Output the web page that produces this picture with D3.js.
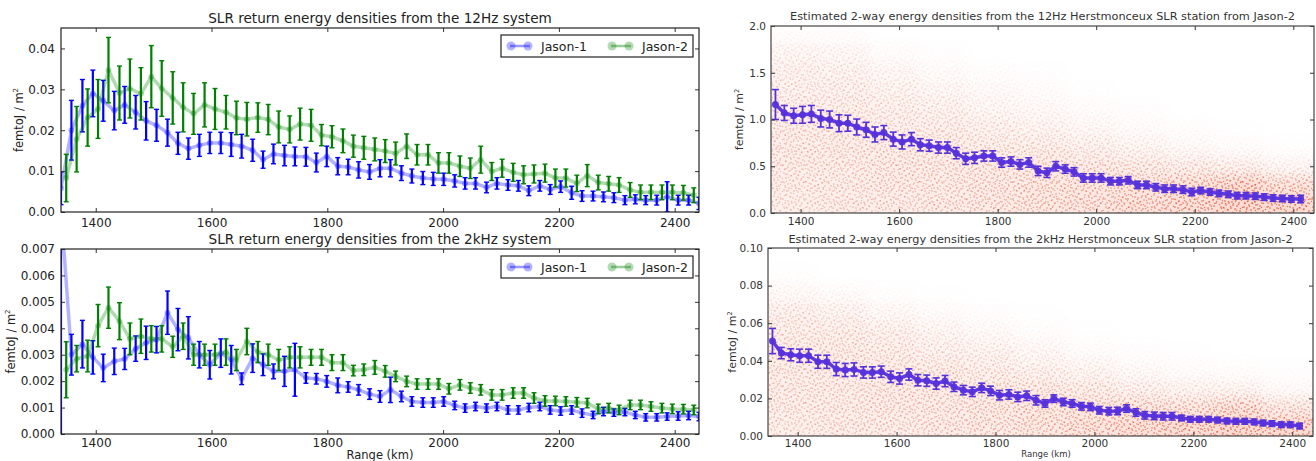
<!DOCTYPE html>
<html>
<head>
<meta charset="utf-8">
<script src="https://cdn.jsdelivr.net/npm/d3@7"></script>
<style>
  body { margin: 0; background: #fff; }
  svg { display: block; font-family: "DejaVu Sans", sans-serif; }
</style>
</head>
<body>
<svg id="fig" width="1316" height="461"></svg>
<script>
// ---- range bins (km) ----
var jason1Range = [1340, 1358, 1377, 1395, 1413, 1432, 1450, 1469, 1487, 1505, 1524, 1542, 1560, 1579, 1597, 1616,
  1634, 1652, 1671, 1689, 1707, 1726, 1744, 1763, 1781, 1799, 1818, 1836, 1854, 1873, 1891, 1909, 1928, 1946, 1965,
  1983, 2001, 2020, 2038, 2056, 2075, 2093, 2112, 2130, 2148, 2167, 2185, 2203, 2222, 2240, 2259, 2277, 2295, 2314,
  2332, 2350, 2369, 2387, 2406, 2424, 2442];
var jason2Range = [1349, 1367, 1386, 1404, 1422, 1441, 1459, 1478, 1496, 1514, 1533, 1551, 1569, 1588, 1606, 1625,
  1643, 1661, 1680, 1698, 1716, 1735, 1753, 1772, 1790, 1808, 1827, 1845, 1863, 1882, 1900, 1918, 1937, 1955, 1974,
  1992, 2010, 2029, 2047, 2065, 2084, 2102, 2121, 2139, 2157, 2176, 2194, 2212, 2231, 2249, 2268, 2286, 2304, 2323,
  2341, 2359, 2378, 2396, 2415, 2433];

// ---- 12Hz system ----
var j1_12Hz = [0.0058, 0.020, 0.026, 0.029, 0.0272, 0.0248, 0.0262, 0.0244, 0.0223, 0.0212,
  0.0194, 0.0168, 0.0155, 0.0163, 0.0169, 0.0169, 0.0165, 0.0161, 0.0151, 0.0128,
  0.0142, 0.0138, 0.0136, 0.0135, 0.0121, 0.0136, 0.0112, 0.0110, 0.0103, 0.0098,
  0.0107, 0.0107, 0.0095, 0.0088, 0.0083, 0.0081, 0.0080, 0.0076, 0.0070, 0.0070,
  0.0060, 0.0070, 0.0066, 0.0064, 0.0052, 0.0064, 0.0055, 0.0062, 0.0047, 0.0039,
  0.0039, 0.0037, 0.0035, 0.0029, 0.0031, 0.0029, 0.0029, 0.0037, 0.0029, 0.0029, 0.0021];
var j1_12HzErr = [0.004, 0.0073, 0.0064, 0.0057, 0.005, 0.0047, 0.0045, 0.0041, 0.0047, 0.0039,
  0.0033, 0.0027, 0.0026, 0.0027, 0.0026, 0.0026, 0.0029, 0.0029, 0.0027, 0.0021,
  0.0024, 0.0025, 0.0023, 0.0023, 0.0023, 0.0025, 0.0021, 0.0019, 0.002, 0.0018,
  0.0021, 0.0021, 0.0018, 0.0017, 0.0016, 0.0016, 0.0015, 0.0015, 0.0014, 0.0014,
  0.0013, 0.0014, 0.0013, 0.0013, 0.0012, 0.0013, 0.0012, 0.0014, 0.0016, 0.0013,
  0.0012, 0.0012, 0.0012, 0.0011, 0.0011, 0.0011, 0.0012, 0.0037, 0.0012, 0.0012, 0.0015];
var j2_12Hz = [0.0083, 0.0178, 0.0231, 0.0252, 0.0347, 0.0291, 0.0302, 0.0289, 0.0331, 0.0302,
  0.0279, 0.0256, 0.0240, 0.0262, 0.0252, 0.0244, 0.0230, 0.0227, 0.0231, 0.0226,
  0.0208, 0.0202, 0.0215, 0.0212, 0.0188, 0.0184, 0.0174, 0.0161, 0.0157, 0.0153,
  0.0149, 0.0143, 0.0161, 0.0140, 0.0140, 0.0120, 0.0120, 0.0112, 0.0107, 0.0128,
  0.0099, 0.0107, 0.0097, 0.0091, 0.0093, 0.0095, 0.0083, 0.0083, 0.0070, 0.0089,
  0.0072, 0.0069, 0.0066, 0.0054, 0.0048, 0.0048, 0.0048, 0.0048, 0.0047, 0.0041];
var j2_12HzErr = [0.0058, 0.008, 0.007, 0.0072, 0.008, 0.0066, 0.0072, 0.0064, 0.0076, 0.0068,
  0.0064, 0.006, 0.005, 0.0054, 0.005, 0.0041, 0.0041, 0.0041, 0.0036, 0.0037,
  0.0039, 0.0033, 0.0039, 0.0039, 0.0026, 0.0027, 0.0029, 0.0027, 0.0028, 0.0028,
  0.0028, 0.0028, 0.003, 0.0025, 0.0025, 0.0025, 0.0025, 0.0025, 0.0025, 0.0033,
  0.0022, 0.0022, 0.0022, 0.0022, 0.0022, 0.0022, 0.0022, 0.0022, 0.002, 0.0027,
  0.0018, 0.0018, 0.0018, 0.0018, 0.0018, 0.0018, 0.0018, 0.0018, 0.0018, 0.0018];

// ---- 2kHz system ----
var j1_2kHz = [0.0085, 0.0030, 0.0034, 0.0029, 0.0025, 0.00275, 0.00284, 0.00323, 0.00345, 0.00357,
  0.00459, 0.00395, 0.00364, 0.0030, 0.00262, 0.00306, 0.00281, 0.00209, 0.00287, 0.00262,
  0.00237, 0.00237, 0.00243, 0.00212, 0.00209, 0.00199, 0.00184, 0.00178, 0.00167, 0.00151,
  0.00142, 0.00167, 0.00142, 0.00123, 0.00119, 0.00119, 0.00123, 0.00108, 0.00098, 0.00104,
  0.00098, 0.00104, 0.00091, 0.00091, 0.00100, 0.00104, 0.00091, 0.00087, 0.00091, 0.00079,
  0.00072, 0.00085, 0.00081, 0.00083, 0.00072, 0.00063, 0.00063, 0.00066, 0.00068, 0.00070, 0.00066];
var j1_2kHzErr = [0.009, 0.00077, 0.0009, 0.00063, 0.00052, 0.0005, 0.0004, 0.00048, 0.00063, 0.0005,
  0.00082, 0.0008, 0.0008, 0.0005, 0.00054, 0.00054, 0.00054, 0.00022, 0.00054, 0.00041,
  0.00028, 0.00057, 0.001, 0.0002, 0.0002, 0.00022, 0.00028, 0.0002, 0.0002, 0.0002,
  0.00022, 0.00048, 0.0002, 0.00018, 0.00018, 0.00018, 0.00018, 0.00016, 0.00016, 0.00016,
  0.00016, 0.00016, 0.00016, 0.00016, 0.00016, 0.00016, 0.00016, 0.00016, 0.00016, 0.00016,
  0.00014, 0.00016, 0.00014, 0.00014, 0.00014, 0.00014, 0.00014, 0.00014, 0.00016, 0.00016, 0.00016];
var j2_2kHz = [0.00243, 0.00285, 0.00295, 0.0041, 0.00478, 0.00427, 0.0036, 0.0037, 0.0036, 0.0036,
  0.0033, 0.0037, 0.0030, 0.0030, 0.0030, 0.0031, 0.0028, 0.0035, 0.0031, 0.0030,
  0.0028, 0.0029, 0.0029, 0.0029, 0.0029, 0.0027, 0.0027, 0.0024, 0.00243, 0.00252,
  0.00237, 0.00218, 0.00199, 0.00189, 0.00189, 0.00189, 0.00171, 0.00186, 0.00174, 0.00167,
  0.00148, 0.00148, 0.00155, 0.00155, 0.00136, 0.00125, 0.00125, 0.00123, 0.00120, 0.00117,
  0.00095, 0.00098, 0.00091, 0.00110, 0.00110, 0.00104, 0.00098, 0.00095, 0.00094, 0.00091];
var j2_2kHzErr = [0.00106, 0.0005, 0.0006, 0.0008, 0.00078, 0.0007, 0.0006, 0.00065, 0.0005, 0.0005,
  0.0004, 0.0005, 0.0004, 0.0004, 0.0004, 0.0005, 0.0004, 0.0005, 0.0004, 0.0004,
  0.0004, 0.0004, 0.0004, 0.0003, 0.0003, 0.0003, 0.0003, 0.0002, 0.00022, 0.00026,
  0.00022, 0.0002, 0.0002, 0.0002, 0.0002, 0.0002, 0.0002, 0.0002, 0.0002, 0.0002,
  0.0002, 0.0002, 0.0002, 0.0002, 0.0002, 0.0002, 0.00018, 0.00018, 0.00018, 0.00018,
  0.00018, 0.00018, 0.00018, 0.00018, 0.00018, 0.00018, 0.00018, 0.00018, 0.00018, 0.00018];

// ---- Herstmonceux estimates (Jason-2) ----
var est12Hz = [1.16, 1.07, 1.04, 1.05, 1.06, 1.01, 1.00, 0.96, 0.96, 0.92,
  0.89, 0.84, 0.86, 0.79, 0.76, 0.79, 0.73, 0.72, 0.70, 0.70,
  0.64, 0.58, 0.59, 0.61, 0.61, 0.54, 0.55, 0.52, 0.54, 0.45,
  0.43, 0.50, 0.47, 0.44, 0.375, 0.375, 0.375, 0.34, 0.34, 0.35,
  0.30, 0.30, 0.275, 0.26, 0.26, 0.25, 0.225, 0.24, 0.225, 0.21,
  0.20, 0.185, 0.185, 0.18, 0.17, 0.16, 0.155, 0.15, 0.15];
var est12HzErr = [0.16, 0.08, 0.08, 0.09, 0.09, 0.09, 0.09, 0.09, 0.085, 0.085,
  0.08, 0.08, 0.075, 0.075, 0.075, 0.07, 0.065, 0.06, 0.06, 0.06,
  0.06, 0.06, 0.06, 0.055, 0.055, 0.05, 0.05, 0.05, 0.05, 0.05,
  0.05, 0.05, 0.045, 0.045, 0.045, 0.045, 0.045, 0.04, 0.04, 0.04,
  0.04, 0.04, 0.04, 0.04, 0.04, 0.04, 0.04, 0.035, 0.035, 0.035,
  0.035, 0.035, 0.035, 0.035, 0.035, 0.035, 0.035, 0.035, 0.04];
var est2kHz = [0.0505, 0.0441, 0.0432, 0.0427, 0.0427, 0.0395, 0.0395, 0.0356, 0.0351, 0.0354,
  0.0338, 0.0338, 0.0342, 0.0315, 0.0306, 0.0327, 0.0297, 0.0294, 0.0279, 0.0292,
  0.0262, 0.0244, 0.0235, 0.0256, 0.0240, 0.0217, 0.0221, 0.0208, 0.0214, 0.0190,
  0.0173, 0.0199, 0.0181, 0.0173, 0.0158, 0.0155, 0.0137, 0.0132, 0.0133, 0.0146,
  0.0125, 0.0110, 0.0107, 0.0105, 0.0105, 0.0096, 0.0089, 0.0089, 0.0089, 0.0085,
  0.0080, 0.0078, 0.0078, 0.0075, 0.0069, 0.0066, 0.0060, 0.0060, 0.0053];
var est2kHzErr = [0.0067, 0.003, 0.0032, 0.0035, 0.0035, 0.0035, 0.0035, 0.0035, 0.0035, 0.0035,
  0.003, 0.003, 0.003, 0.003, 0.003, 0.003, 0.003, 0.003, 0.003, 0.003,
  0.0025, 0.0025, 0.0025, 0.0025, 0.0025, 0.0025, 0.0025, 0.0025, 0.0025, 0.0025,
  0.002, 0.002, 0.002, 0.002, 0.002, 0.002, 0.002, 0.002, 0.002, 0.002,
  0.002, 0.002, 0.002, 0.002, 0.002, 0.0015, 0.0015, 0.0015, 0.0015, 0.0015,
  0.0015, 0.0015, 0.0015, 0.0015, 0.0015, 0.0015, 0.0015, 0.0015, 0.0015];

// ---- shot clouds behind the estimates: relative density per (range column, value row) ----
var cloudRangeEdges = [1340, 1440, 1540, 1640, 1740, 1840, 1940, 2040, 2140, 2240, 2340, 2442];
var cloudRows12Hz = [0, 0.2, 0.4, 0.6, 0.8, 1.0, 1.2, 1.4, 1.6, 1.8, 2.0];
var cloudDensity12Hz = [
  [0.4, 0.45, 0.45, 0.45, 0.45, 0.4, 0.35, 0.3, 0.22, 0.06],
  [0.45, 0.45, 0.45, 0.45, 0.45, 0.4, 0.35, 0.28, 0.18, 0.04],
  [0.45, 0.5, 0.5, 0.45, 0.4, 0.35, 0.28, 0.18, 0.07, 0],
  [0.5, 0.5, 0.5, 0.45, 0.4, 0.3, 0.2, 0.1, 0.03, 0],
  [0.55, 0.55, 0.5, 0.42, 0.32, 0.2, 0.12, 0.05, 0, 0],
  [0.6, 0.6, 0.52, 0.4, 0.25, 0.14, 0.07, 0.02, 0, 0],
  [0.65, 0.62, 0.5, 0.32, 0.17, 0.07, 0.02, 0, 0, 0],
  [0.75, 0.68, 0.45, 0.22, 0.09, 0.03, 0, 0, 0, 0],
  [0.85, 0.78, 0.38, 0.13, 0.04, 0, 0, 0, 0, 0],
  [1.0, 0.92, 0.3, 0.07, 0.01, 0, 0, 0, 0, 0],
  [0.95, 0.7, 0.18, 0.03, 0, 0, 0, 0, 0, 0]];
var cloudRows2kHz = [0, 0.01, 0.02, 0.03, 0.04, 0.05, 0.06, 0.07, 0.08, 0.09, 0.1];
var cloudDensity2kHz = [
  [0.4, 0.45, 0.45, 0.45, 0.45, 0.4, 0.35, 0.15, 0.03, 0],
  [0.45, 0.45, 0.45, 0.45, 0.45, 0.4, 0.28, 0.1, 0, 0],
  [0.45, 0.5, 0.5, 0.45, 0.4, 0.33, 0.17, 0.04, 0, 0],
  [0.5, 0.5, 0.5, 0.45, 0.33, 0.22, 0.09, 0.01, 0, 0],
  [0.55, 0.55, 0.5, 0.38, 0.27, 0.13, 0.04, 0, 0, 0],
  [0.6, 0.6, 0.48, 0.3, 0.17, 0.06, 0.01, 0, 0, 0],
  [0.7, 0.63, 0.42, 0.22, 0.08, 0.02, 0, 0, 0, 0],
  [0.8, 0.65, 0.32, 0.12, 0.03, 0, 0, 0, 0, 0],
  [0.9, 0.62, 0.24, 0.07, 0.01, 0, 0, 0, 0, 0],
  [1.0, 0.75, 0.22, 0.05, 0, 0, 0, 0, 0, 0],
  [0.95, 0.5, 0.1, 0.02, 0, 0, 0, 0, 0, 0]];

// ---- ticks ----
var xDomain = [1340, 2442];
var xTickLabels = [1400, 1600, 1800, 2000, 2200, 2400];
var yTicks12HzLeft = [0, 0.01, 0.02, 0.03, 0.04];
var yTicks2kHzLeft = [0, 0.001, 0.002, 0.003, 0.004, 0.005, 0.006, 0.007];
var yTicks12HzRight = [0, 0.5, 1.0, 1.5, 2.0];
var yTicks2kHzRight = [0, 0.02, 0.04, 0.06, 0.08, 0.1];
var seriesNames = ["Jason-1", "Jason-2"];


var svg = d3.select("#fig");
var defs = svg.append("defs");

// two stipple tiles with different periods, layered so the repeat is hard to see
function addStipple(id, w, h, dots) {
    var pat = defs.append("pattern").attr("id", id)
        .attr("patternUnits", "userSpaceOnUse").attr("width", w).attr("height", h);
    dots.forEach(function(p) {
        pat.append("circle").attr("cx", p[0]).attr("cy", p[1]).attr("r", 0.75).attr("fill", "#df3a18");
    });
}
addStipple("stippleA", 23, 17, [[2,3],[7,1],[12,4],[18,2],[21,7],[4,8],[9,6],[15,9],[1,12],[6,14],[11,11],
    [17,13],[20,16],[3,16],[13,15],[8,10],[19,10],[14,1],[10,16],[22,12],[16,5],[5,4]]);
addStipple("stippleB", 19, 13, [[1.5,2.5],[6.5,5.5],[11.5,1.5],[16.5,4.5],[3.5,9.5],[9.5,8.5],[14.5,11.5],
    [17.5,8.5],[7.5,12.5],[12.5,6.5],[0.5,6.5],[5.5,0.5]]);
defs.append("filter").attr("id", "cloudBlur")
    .attr("x", "-20%").attr("y", "-20%").attr("width", "140%").attr("height", "140%")
    .append("feGaussianBlur").attr("stdDeviation", 6);

function makePanel(p) {
    var x = d3.scaleLinear().domain(xDomain).range([p.l, p.r]);
    var y = d3.scaleLinear().domain(p.yDomain).range([p.b, p.t]);
    defs.append("clipPath").attr("id", "clip-" + p.id)
        .append("rect").attr("x", p.l).attr("y", p.t).attr("width", p.r - p.l).attr("height", p.b - p.t);
    var g = svg.append("g");
    var plot = g.append("g").attr("clip-path", "url(#clip-" + p.id + ")");
    return {x: x, y: y, g: g, plot: plot, p: p};
}

function drawAxes(ax) {
    var p = ax.p, g = ax.g;
    g.append("g").attr("transform", "translate(0," + p.b + ")")
        .call(d3.axisBottom(ax.x).tickValues(xTickLabels).tickFormat(d3.format("d"))
            .tickSizeInner(-4).tickSizeOuter(0).tickPadding(p.xPad));
    g.append("g").attr("transform", "translate(0," + p.t + ")")
        .call(d3.axisTop(ax.x).tickValues(xTickLabels).tickFormat("").tickSizeInner(-4).tickSizeOuter(0));
    g.append("g").attr("transform", "translate(" + p.l + ",0)")
        .call(d3.axisLeft(ax.y).tickValues(p.yTicks).tickFormat(d3.format(p.yFmt))
            .tickSizeInner(-4).tickSizeOuter(0).tickPadding(p.yPad));
    g.append("g").attr("transform", "translate(" + p.r + ",0)")
        .call(d3.axisRight(ax.y).tickValues(p.yTicks).tickFormat("").tickSizeInner(-4).tickSizeOuter(0));
    g.selectAll(".domain").remove();
    g.selectAll(".tick line").attr("stroke", "#333");
    g.selectAll(".tick text").attr("font-family", "DejaVu Sans").attr("font-size", p.tickFont).attr("fill", p.textColor);
    g.append("rect").attr("x", p.l).attr("y", p.t).attr("width", p.r - p.l).attr("height", p.b - p.t)
        .attr("fill", "none").attr("stroke", p.frameColor).attr("stroke-width", 1.2);

    g.append("text").attr("x", (p.l + p.r) / 2).attr("y", p.titleY).attr("text-anchor", "middle")
        .attr("font-size", p.titleFont).attr("fill", p.textColor).text(p.title);

    var yl = g.append("text").attr("transform", "translate(" + p.ylabelX + "," + ((p.t + p.b) / 2) + ") rotate(-90)")
        .attr("text-anchor", "middle").attr("font-size", p.ylabelFont).attr("fill", p.textColor);
    yl.append("tspan").text("femtoJ / m");
    yl.append("tspan").attr("dy", -p.ylabelFont * 0.4).attr("font-size", p.ylabelFont * 0.6).text("2");

    if (p.xlabel) {
        g.append("text").attr("x", p.xlabelX).attr("y", p.xlabelY).attr("text-anchor", "middle")
            .attr("font-size", p.xlabelFont).attr("fill", p.textColor).text(p.xlabel);
    }
}

function drawErrSeries(ax, xs, ys, es, s) {
    var pts = ys.map(function(v, i) { return {x: xs[i], y: v, e: es[i] || 0}; });
    var line = d3.line().x(function(d) { return ax.x(d.x); }).y(function(d) { return ax.y(d.y); });
    ax.plot.append("path").datum(pts).attr("d", line).attr("fill", "none")
        .attr("stroke", s.color).attr("stroke-opacity", s.lineOpacity)
        .attr("stroke-width", s.lineWidth).attr("stroke-linejoin", "round");
    ax.plot.append("g").selectAll("circle").data(pts).enter().append("circle")
        .attr("cx", function(d) { return ax.x(d.x); }).attr("cy", function(d) { return ax.y(d.y); })
        .attr("r", s.markerR).attr("fill", s.color).attr("fill-opacity", s.lineOpacity);
    var eb = ax.plot.append("g").attr("stroke", s.barColor).attr("stroke-width", s.barWidth);
    eb.selectAll("line.bar").data(pts).enter().append("line").attr("class", "bar")
        .attr("x1", function(d) { return ax.x(d.x); }).attr("x2", function(d) { return ax.x(d.x); })
        .attr("y1", function(d) { return ax.y(d.y - d.e); }).attr("y2", function(d) { return ax.y(d.y + d.e); });
    [-1, 1].forEach(function(sign) {
        eb.selectAll(null).data(pts).enter().append("line")
            .attr("stroke-width", s.capWidth)
            .attr("x1", function(d) { return ax.x(d.x) - s.cap; }).attr("x2", function(d) { return ax.x(d.x) + s.cap; })
            .attr("y1", function(d) { return ax.y(d.y + sign * d.e); }).attr("y2", function(d) { return ax.y(d.y + sign * d.e); });
    });
}

function drawCloud(ax, rowEdges, density, id) {
    var p = ax.p;
    var mask = defs.append("mask").attr("id", id).attr("maskUnits", "userSpaceOnUse")
        .attr("x", p.l - 40).attr("y", p.t - 40).attr("width", p.r - p.l + 80).attr("height", p.b - p.t + 80);
    var mg = mask.append("g").attr("filter", "url(#cloudBlur)");
    density.forEach(function(col, i) {
        col.forEach(function(d, j) {
            var x0 = ax.x(cloudRangeEdges[i]), x1 = ax.x(cloudRangeEdges[i + 1]);
            var y0 = ax.y(rowEdges[j + 1]), y1 = ax.y(rowEdges[j]);
            if (i === 0) x0 -= 25;
            if (i === density.length - 1) x1 += 25;
            if (j === 0) y1 += 25;
            mg.append("rect").attr("x", x0).attr("y", y0).attr("width", x1 - x0).attr("height", y1 - y0)
                .attr("fill", "#fff").attr("fill-opacity", d);
        });
    });
    var layers = [["#ef8a72", 0.3], ["url(#stippleA)", 0.95], ["url(#stippleB)", 0.65]];
    layers.forEach(function(l) {
        ax.plot.append("rect").attr("x", p.l).attr("y", p.t).attr("width", p.r - p.l).attr("height", p.b - p.t)
            .attr("fill", l[0]).attr("fill-opacity", l[1]).attr("mask", "url(#" + id + ")");
    });
}

function drawLegend(ax, styles) {
    var p = ax.p;
    var w = 192, h = 22, x0 = p.r - 6 - w, y0 = p.t + p.legendDy;
    var lg = ax.g.append("g");
    lg.append("rect").attr("x", x0).attr("y", y0).attr("width", w).attr("height", h)
        .attr("fill", "#fff").attr("stroke", "#222").attr("stroke-width", 1.2);
    var offsets = [7, 108];
    styles.forEach(function(s, i) {
        var lx = x0 + offsets[i], cy = y0 + h / 2;
        lg.append("line").attr("x1", lx + 2).attr("x2", lx + 22).attr("y1", cy).attr("y2", cy)
            .attr("stroke", s.color).attr("stroke-opacity", 0.4).attr("stroke-width", 2.5);
        [lx + 3, lx + 20].forEach(function(cx) {
            lg.append("circle").attr("cx", cx).attr("cy", cy).attr("r", 4.5)
                .attr("fill", s.color).attr("fill-opacity", 0.3);
        });
        lg.append("text").attr("x", lx + 33).attr("y", cy + 4.5).attr("font-size", 12.5)
            .attr("fill", "#222").text(seriesNames[i]);
    });
}

var blueStyle = {color: "#0000ff", barColor: "#0000ff", lineOpacity: 0.3, lineWidth: 3.5, markerR: 3,
    barWidth: 2.2, capWidth: 1.4, cap: 2.5};
var greenStyle = {color: "#008000", barColor: "#008000", lineOpacity: 0.3, lineWidth: 3.5, markerR: 3,
    barWidth: 2.2, capWidth: 1.4, cap: 2.5};
var purpleStyle = {color: "#5632dc", barColor: "#5632dc", lineOpacity: 0.95, lineWidth: 3.5, markerR: 3.5,
    barWidth: 1.8, capWidth: 1.6, cap: 3.5};

var leftCommon = {tickFont: 12, titleFont: 13.6, ylabelFont: 11.5, textColor: "#222", frameColor: "#222", yPad: 6, legendDy: 7};
var rightCommon = {tickFont: 10.5, titleFont: 11.3, ylabelFont: 11, textColor: "#333", frameColor: "#444", yPad: 5};

// ---- panel 1: 12Hz, Jason-1 / Jason-2 ----
var ax1 = makePanel(Object.assign({id: "a1", l: 61, r: 699, t: 28, b: 212, yDomain: [0, 0.045],
    yTicks: yTicks12HzLeft, yFmt: ".2f", xPad: 6, titleY: 23, ylabelX: 23,
    title: "SLR return energy densities from the 12Hz system"}, leftCommon));
drawErrSeries(ax1, jason1Range, j1_12Hz, j1_12HzErr, blueStyle);
drawErrSeries(ax1, jason2Range, j2_12Hz, j2_12HzErr, greenStyle);
drawAxes(ax1);
drawLegend(ax1, [blueStyle, greenStyle]);

// ---- panel 2: 2kHz, Jason-1 / Jason-2 ----
var ax2 = makePanel(Object.assign({id: "a2", l: 61, r: 699, t: 249, b: 434, yDomain: [0, 0.007],
    yTicks: yTicks2kHzLeft, yFmt: ".3f", xPad: 4, titleY: 244, ylabelX: 15,
    title: "SLR return energy densities from the 2kHz system",
    xlabel: "Range (km)", xlabelX: 380, xlabelY: 459, xlabelFont: 11.5}, leftCommon));
drawErrSeries(ax2, jason1Range, j1_2kHz, j1_2kHzErr, blueStyle);
drawErrSeries(ax2, jason2Range, j2_2kHz, j2_2kHzErr, greenStyle);
drawAxes(ax2);
drawLegend(ax2, [blueStyle, greenStyle]);

// ---- panel 3: Herstmonceux 12Hz estimate ----
var ax3 = makePanel(Object.assign({id: "a3", l: 771, r: 1314, t: 26, b: 213, yDomain: [0, 2],
    yTicks: yTicks12HzRight, yFmt: ".1f", xPad: 5, titleY: 20, ylabelX: 743,
    title: "Estimated 2-way energy densities from the 12Hz Herstmonceux SLR station from Jason-2"}, rightCommon));
drawCloud(ax3, cloudRows12Hz, cloudDensity12Hz, "cloud12");
drawErrSeries(ax3, jason2Range, est12Hz, est12HzErr, purpleStyle);
drawAxes(ax3);

// ---- panel 4: Herstmonceux 2kHz estimate ----
var ax4 = makePanel(Object.assign({id: "a4", l: 768, r: 1313, t: 248, b: 436, yDomain: [0, 0.1],
    yTicks: yTicks2kHzRight, yFmt: ".2f", xPad: 4, titleY: 243, ylabelX: 736,
    title: "Estimated 2-way energy densities from the 2kHz Herstmonceux SLR station from Jason-2",
    xlabel: "Range (km)", xlabelX: 1046, xlabelY: 457, xlabelFont: 8.5}, rightCommon));
drawCloud(ax4, cloudRows2kHz, cloudDensity2kHz, "cloud2");
drawErrSeries(ax4, jason2Range, est2kHz, est2kHzErr, purpleStyle);
drawAxes(ax4);
</script>
</body>
</html>
